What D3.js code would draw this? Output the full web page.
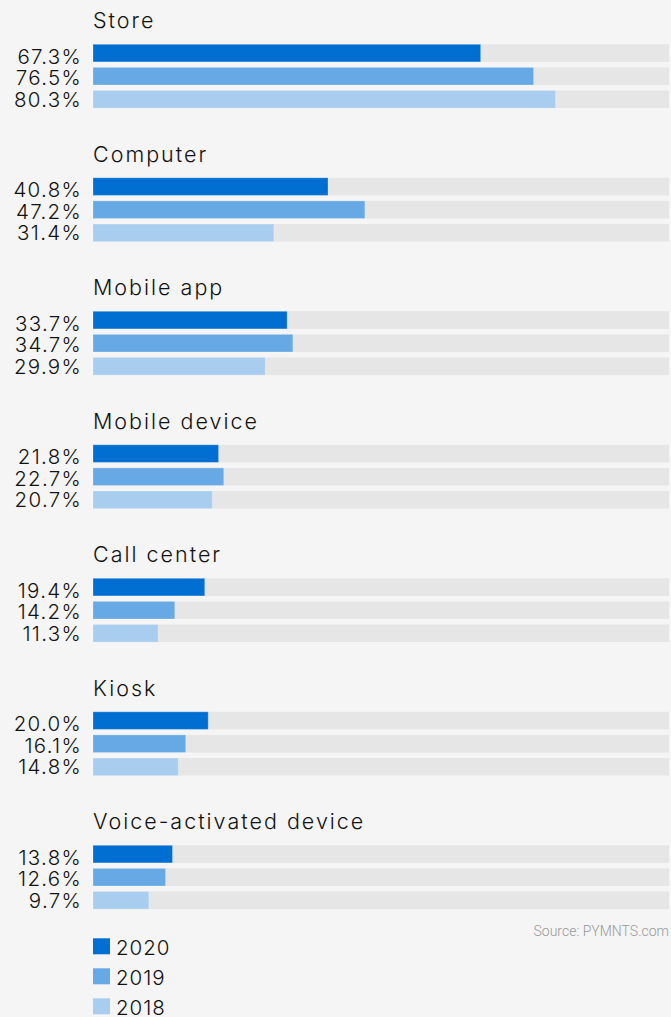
<!DOCTYPE html>
<html>
<head>
<meta charset="utf-8">
<script src="https://cdn.jsdelivr.net/npm/d3@7"></script>
<style>
  html, body { margin: 0; padding: 0; background: #f5f5f5; }
  svg { display: block; }
  .title { font-family: Inter, sans-serif; font-weight: 300; font-size: 21.5px; letter-spacing: 2px; fill: #111; }
  .val { font-family: Inter, sans-serif; font-weight: 300; font-size: 20.5px; letter-spacing: 1.3px; fill: #111; }
  .legend text { font-family: Inter, sans-serif; font-weight: 300; font-size: 20.5px; letter-spacing: 1px; fill: #111; }
  .source { font-family: Roboto, sans-serif; font-weight: 300; font-size: 14px; fill: #999; }
</style>
</head>
<body>
<div class="chart"></div>
<script>
// channels used to reach customers, share by year
const channels = ['Store', 'Computer', 'Mobile app', 'Mobile device', 'Call center', 'Kiosk', 'Voice-activated device'];
const years = ['2020', '2019', '2018'];
const share2020 = [67.3, 40.8, 33.7, 21.8, 19.4, 20.0, 13.8];
const share2019 = [76.5, 47.2, 34.7, 22.7, 14.2, 16.1, 12.6];
const share2018 = [80.3, 31.4, 29.9, 20.7, 11.3, 14.8, 9.7];
const colors = ['#006fd1', '#67a9e4', '#a8cdef'];

const series = [share2020, share2019, share2018];

const W = 671, H = 1017;
const svg = d3.select('.chart').append('svg')
  .attr('width', W)
  .attr('height', H);

const x = d3.scaleLinear().domain([0, 100]).range([93, 669]);
// group position (title baseline)
const yGroup = d3.scaleLinear().domain([0, 1]).range([28.3, 161.8]);
// bar rows inside a group
const yRow = d3.scaleLinear().domain([0, 1]).range([16, 39.1]);
const yLabel = d3.scaleLinear().domain([0, 1]).range([35.3, 57]);
const barH = 17.6;

channels.forEach(function(name, i){
  const g = svg.append('g')
    .attr('transform', `translate(0, ${yGroup(i)})`);

  g.append('text')
    .attr('class', 'title')
    .attr('x', 93)
    .attr('y', 0)
    .text(name);

  years.forEach(function(yr, j){
    const v = series[j][i];
    // grey track
    g.append('rect')
      .attr('x', x(0))
      .attr('y', yRow(j))
      .attr('width', x(100) - x(0))
      .attr('height', barH)
      .attr('fill', '#e6e6e6');

    g.append('rect')
      .attr('x', x(0))
      .attr('y', yRow(j))
      .attr('width', x(v) - x(0))
      .attr('height', barH)
      .attr('fill', colors[j])
      .attr('stroke', '#fff')
      .attr('stroke-opacity', 0.25)
      .attr('stroke-width', 1);

    g.append('text')
      .attr('class', 'val')
      .attr('x', 82)
      .attr('y', yLabel(j))
      .attr('text-anchor', 'end')
      .text(v.toFixed(1) + '%');
  });
});

svg.append('text')
  .attr('class', 'source')
  .attr('x', 669)
  .attr('y', 936)
  .attr('text-anchor', 'end')
  .text('Source: PYMNTS.com');

const legend = svg.append('g').attr('class', 'legend');
years.forEach(function(yr, j){
  const ly = 938.3 + j * 30;
  legend.append('rect')
    .attr('x', 93)
    .attr('y', ly)
    .attr('width', 17)
    .attr('height', 16)
    .attr('fill', colors[j]);
  legend.append('text')
    .attr('x', 116)
    .attr('y', ly + 16.5)
    .text(yr);
});
</script>
</body>
</html>
